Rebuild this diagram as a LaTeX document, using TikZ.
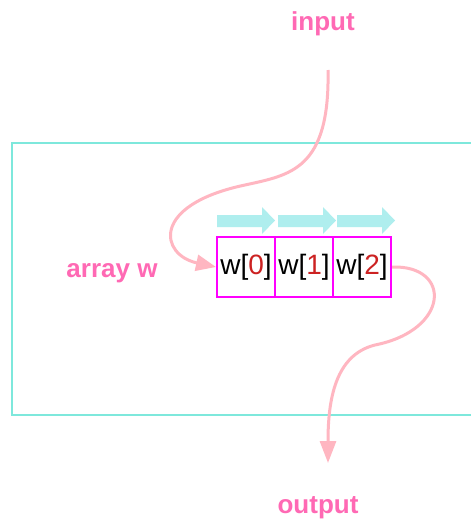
\documentclass[tikz,border=0pt]{standalone}
\usepackage{fontspec}
\setmainfont{Liberation Sans}
\usetikzlibrary{arrows.meta}
\definecolor{lblpink}{HTML}{FF69B4}
\definecolor{linepink}{HTML}{FFB6C1}
\definecolor{framecyan}{HTML}{7EE8DC}
\definecolor{arrcyan}{HTML}{AFEEEE}
\definecolor{digitred}{HTML}{CC2222}
\definecolor{cellmag}{HTML}{FF00FF}
\tikzset{
  lbl/.style={text=lblpink, font=\fontsize{26}{30}\selectfont\bfseries, inner sep=0pt, anchor=base},
  cell/.style={draw=cellmag, line width=2pt, minimum width=58pt, minimum height=60pt, inner sep=0pt, font=\fontsize{28}{32}\selectfont},
  flow/.style={draw=linepink, line width=3pt},
  blockarrow/.style={fill=arrcyan, draw=none},
}
\newcommand{\dg}[1]{\textcolor{digitred}{#1}}
\begin{document}
\begin{tikzpicture}[x=1pt,y=-1pt]
\clip (0,0) rectangle (471,520);
\useasboundingbox (0,0) rectangle (471,520);
\fill[white] (0,0) rectangle (471,520);
% frame
\draw[framecyan, line width=1.3pt] (480,143) -- (12,143) -- (12,415) -- (480,415);
% labels
\node[lbl] (in) at (323,30) {input};
\node[lbl] (out) at (318,513) {output};
\node[lbl] (arr) at (112,277) {array w};
% cells
\node[cell] (w0) at (246,267) {w[\dg{0}]};
\node[cell] (w1) at (304,267) {w[\dg{1}]};
\node[cell] (w2) at (362,267) {w[\dg{2}]};
% block arrows
\foreach \x in {217,278,337}{
  \path[blockarrow] (\x,215) -- (\x+45,215) -- (\x+45,207) -- (\x+58,220.5) -- (\x+45,234) -- (\x+45,227) -- (\x,227) -- cycle;
}
% flow curves
\coordinate (src) at (328,70);
\coordinate (dst) at (328,463);
\draw[flow, -{Triangle[length=20pt,width=16pt]}] (src) .. controls (330,170) and (290,175) .. (245,185)
   .. controls (150,205) and (160,255) .. (w0.west);
\draw[flow, -{Triangle[length=22pt,width=16pt]}] (w2.east) .. controls (452,265) and (450,330) .. (375,345)
   .. controls (335,355) and (328,400) .. (dst);
\end{tikzpicture}
\end{document}
